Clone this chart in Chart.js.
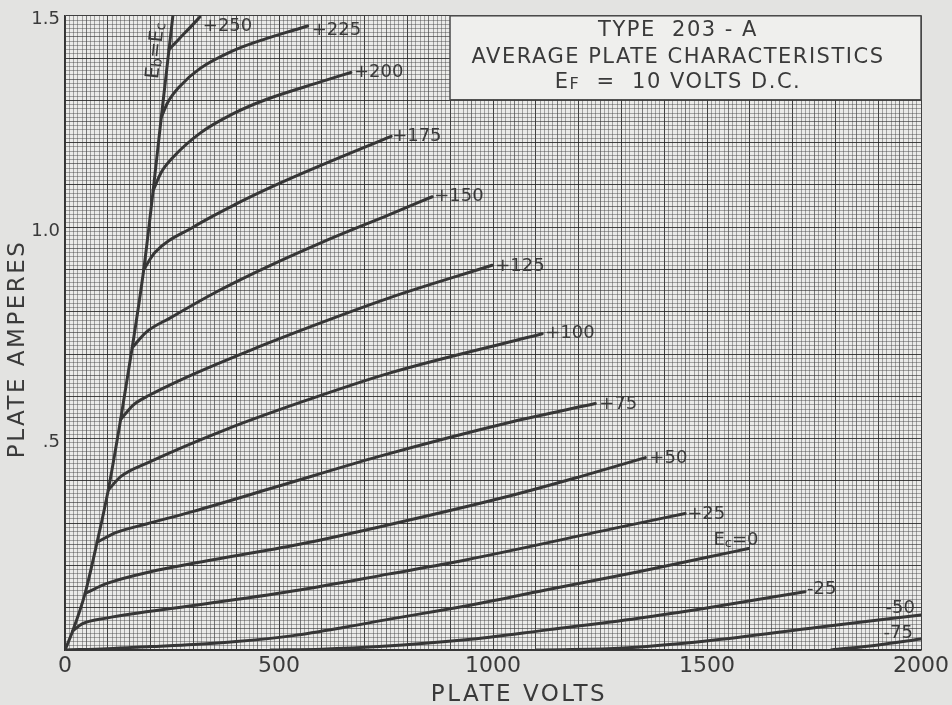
<!DOCTYPE html>
<html>
<head>
<meta charset="utf-8">
<title>Type 203-A plate characteristics</title>
<script src="https://cdn.jsdelivr.net/npm/chart.js@4.4.1/dist/chart.umd.min.js"></script>
<style>
  html, body { margin: 0; padding: 0; background: #e3e3e1; }
</style>
</head>
<body>
<canvas id="plate-chart" width="952" height="705"></canvas>
<script>
// grid voltage of each curve (label text) and the readings along it
const gridLabels = ['+250', '+225', '+200', '+175', '+150', '+125', '+100', '+75', '+50', '+25', 'Ec=0', '-25', '-50', '-75'];

// plate volts / plate amperes
const volts250 = [243, 268, 292, 315];
const amps250  = [1.42, 1.447, 1.472, 1.497];
const volts225 = [225, 240, 268, 315, 392, 470, 548, 567];
const amps225  = [1.26, 1.295, 1.333, 1.375, 1.417, 1.446, 1.47, 1.476];
const volts200 = [206, 225, 252, 315, 392, 470, 595, 668];
const amps200  = [1.087, 1.13, 1.165, 1.222, 1.268, 1.302, 1.343, 1.366];
const volts175 = [184, 210, 299, 400, 493, 595, 762];
const amps175  = [0.9, 0.94, 1.0, 1.055, 1.1, 1.145, 1.215];
const volts150 = [157, 190, 245, 350, 455, 595, 758, 858];
const amps150  = [0.715, 0.752, 0.785, 0.845, 0.898, 0.962, 1.03, 1.072];
const volts125 = [130, 160, 198, 299, 455, 548, 758, 998];
const amps125  = [0.545, 0.58, 0.603, 0.652, 0.718, 0.755, 0.833, 0.91];
const volts100 = [101, 130, 198, 377, 548, 758, 1115];
const amps100  = [0.378, 0.41, 0.445, 0.522, 0.585, 0.655, 0.748];
const volts75  = [75, 120, 190, 300, 494, 734, 1045, 1239];
const amps75   = [0.255, 0.278, 0.298, 0.328, 0.386, 0.458, 0.54, 0.583];
const volts50  = [47, 100, 200, 300, 548, 734, 1045, 1200, 1356];
const amps50   = [0.134, 0.158, 0.185, 0.205, 0.25, 0.291, 0.366, 0.409, 0.455];
const volts25  = [18, 40, 100, 300, 548, 758, 936, 1294, 1449];
const amps25   = [0.045, 0.062, 0.076, 0.105, 0.142, 0.18, 0.213, 0.29, 0.323];
const volts0   = [0, 100, 200, 300, 400, 533, 650, 758, 936, 1123, 1340, 1503, 1597];
const amps0    = [0, 0.003, 0.008, 0.013, 0.02, 0.034, 0.053, 0.073, 0.104, 0.142, 0.185, 0.22, 0.24];
const voltsM25 = [480, 600, 734, 936, 1123, 1340, 1503, 1729];
const ampsM25  = [0, 0.002, 0.008, 0.024, 0.047, 0.075, 0.1, 0.138];
const voltsM50 = [1100, 1294, 1503, 1760, 2000];
const ampsM50  = [0, 0.004, 0.022, 0.054, 0.083];
const voltsM75 = [1790, 1900, 2000];
const ampsM75  = [0, 0.012, 0.026];

// the Eb = Ec boundary line
const voltsEbEc = [0, 18, 47, 75, 101, 130, 157, 184, 206, 225, 243, 252];
const ampsEbEc  = [0, 0.045, 0.134, 0.255, 0.378, 0.545, 0.715, 0.9, 1.087, 1.26, 1.42, 1.5];

// axis tick labels
const voltTicks = [0, 500, 1000, 1500, 2000];
const ampTicks = { 150: '1.5', 100: '1.0', 50: '.5' };

const curveVolts = [volts250, volts225, volts200, volts175, volts150, volts125, volts100, volts75, volts50, volts25, volts0, voltsM25, voltsM50, voltsM75];
const curveAmps = [amps250, amps225, amps200, amps175, amps150, amps125, amps100, amps75, amps50, amps25, amps0, ampsM25, ampsM50, ampsM75];

// where each label sits next to the end of its curve: [dx, dy, align]
const labelPlace = [
  [3, 9, 'left'], [4, 4, 'left'], [3, 0, 'left'], [1, 0, 'left'], [2, 0, 'left'],
  [3, 1, 'left'], [3, 0, 'left'], [4, 1, 'left'], [4, 1, 'left'], [2, 1, 'left'],
  [10, -8, 'right'], [2, -2, 'left'], [-6, -7, 'right'], [-8, -6, 'right']
];

const ink = '#3a3a3a';
const fontName = '"DejaVu Sans", sans-serif';

function toPoints(xs, ys) {
  return xs.map((v, i) => ({ x: v, y: ys[i] }));
}

// graph paper shading: heavy every major step, medium every half, fine otherwise
function paperLine(units, major, half) {
  if (units % major === 0) return 'rgba(35,35,35,0.85)';
  if (units % half === 0) return 'rgba(50,50,50,0.62)';
  return 'rgba(70,70,70,0.45)';
}

// draw text made of parts [text, scale, dy] (for subscripts)
function drawRich(ctx, parts, x, y, align, size) {
  let total = 0;
  parts.forEach(p => {
    ctx.font = Math.round(size * p[1]) + 'px ' + fontName;
    total += ctx.measureText(p[0]).width;
  });
  let cx = align === 'right' ? x - total : (align === 'center' ? x - total / 2 : x);
  ctx.textAlign = 'left';
  parts.forEach(p => {
    ctx.font = Math.round(size * p[1]) + 'px ' + fontName;
    ctx.fillText(p[0], cx, y + (p[2] || 0));
    cx += ctx.measureText(p[0]).width;
  });
}

function labelParts(text) {
  if (text === 'Ec=0') return [['E', 1], ['c', 0.7, 3], ['=0', 1]];
  return [[text, 1]];
}

const datasets = curveVolts.map((xs, i) => ({
  label: gridLabels[i],
  data: toPoints(xs, curveAmps[i]),
  borderColor: '#363636',
  borderWidth: 3,
  pointRadius: 0,
  cubicInterpolationMode: 'monotone',
  borderCapStyle: 'round',
  borderJoinStyle: 'round'
}));
datasets.push({
  label: 'Eb=Ec',
  data: toPoints(voltsEbEc, ampsEbEc),
  borderColor: '#363636',
  borderWidth: 3,
  pointRadius: 0,
  cubicInterpolationMode: 'monotone',
  borderCapStyle: 'round'
});

const sheetPlugin = {
  id: 'sheet',
  beforeDraw(chart) {
    const { ctx, chartArea: a } = chart;
    ctx.save();
    ctx.fillStyle = '#e3e3e1';
    ctx.fillRect(0, 0, chart.width, chart.height);
    ctx.fillStyle = '#ebebe9';
    ctx.fillRect(a.left, a.top, a.right - a.left, a.bottom - a.top);
    ctx.restore();
  },
  afterDatasetsDraw(chart) {
    const { ctx, chartArea: a, scales } = chart;
    const sx = scales.x, sy = scales.y;
    ctx.save();
    ctx.fillStyle = ink;
    ctx.textBaseline = 'middle';

    // curve labels at the end of each curve
    curveVolts.forEach((xs, i) => {
      const n = xs.length - 1;
      const px = sx.getPixelForValue(xs[n]);
      const py = sy.getPixelForValue(curveAmps[i][n]);
      const p = labelPlace[i];
      drawRich(ctx, labelParts(gridLabels[i]), px + p[0], py + p[1], p[2], 18);
    });

    // Eb=Ec written along the boundary line
    const k = voltsEbEc.length - 2;
    const ex = sx.getPixelForValue(voltsEbEc[k]) - 13;
    const ey = sy.getPixelForValue(ampsEbEc[k]) + 1;
    ctx.save();
    ctx.translate(ex, ey);
    ctx.rotate(-84 * Math.PI / 180);
    drawRich(ctx, [['E', 1], ['b', 0.72, 3], ['=', 1], ['E', 1], ['c', 0.72, 3]], 0, 0, 'center', 19);
    ctx.restore();

    // title block in the top right corner
    const bx = a.right - 471, by = a.top, bw = 471, bh = 84;
    ctx.fillStyle = '#efefed';
    ctx.fillRect(bx, by, bw, bh);
    ctx.strokeStyle = '#4a4a4a';
    ctx.lineWidth = 1.5;
    ctx.strokeRect(bx, by, bw, bh);
    ctx.fillStyle = ink;
    ctx.letterSpacing = '1.5px';
    const tc = bx + 228;
    drawRich(ctx, [['TYPE  203 - A', 1]], tc, by + 15, 'center', 21);
    drawRich(ctx, [['AVERAGE PLATE CHARACTERISTICS', 1]], tc, by + 42, 'center', 21);
    drawRich(ctx, [['E', 1], ['F', 0.78, 2], ['  =  10 VOLTS D.C.', 1]], tc, by + 67, 'center', 21);

    // axis titles
    ctx.letterSpacing = '2.5px';
    ctx.font = '23px ' + fontName;
    ctx.textAlign = 'center';
    ctx.fillText('PLATE VOLTS', (a.left + a.right) / 2 + 26, a.bottom + 45);
    ctx.save();
    ctx.translate(a.left - 47, (a.top + a.bottom) / 2 + 16);
    ctx.rotate(-Math.PI / 2);
    ctx.fillText('PLATE AMPERES', 0, 0);
    ctx.restore();
    ctx.restore();
  }
};

new Chart(document.getElementById('plate-chart'), {
  type: 'line',
  data: { datasets: datasets },
  plugins: [sheetPlugin],
  options: {
    responsive: false,
    animation: false,
    layout: { padding: { top: 15, right: 29, left: 0, bottom: 0 } },
    plugins: { legend: { display: false }, tooltip: { enabled: false } },
    scales: {
      x: {
        type: 'linear',
        min: 0,
        max: 2000,
        afterFit(scale) { scale.height = 55; },
        border: { color: '#333', width: 1.5 },
        grid: {
          drawTicks: false,
          lineWidth: 1,
          color: c => paperLine(Math.round(c.tick.value / 10), 10, 5)
        },
        ticks: {
          stepSize: 10,
          autoSkip: false,
          maxRotation: 0,
          minRotation: 0,
          padding: 3,
          color: ink,
          font: { family: fontName, size: 22 },
          callback: v => voltTicks.includes(v) ? String(v) : ''
        }
      },
      y: {
        type: 'linear',
        min: 0,
        max: 1.5,
        afterFit(scale) { scale.width = 65; },
        border: { color: '#333', width: 1.5 },
        grid: {
          drawTicks: false,
          lineWidth: 1,
          color: c => paperLine(Math.round(c.tick.value * 100), 10, 5)
        },
        ticks: {
          stepSize: 0.01,
          autoSkip: false,
          padding: 5,
          labelOffset: 4,
          color: ink,
          font: { family: fontName, size: 18 },
          callback: v => ampTicks[Math.round(v * 100)] || ''
        }
      }
    }
  }
});
</script>
</body>
</html>
